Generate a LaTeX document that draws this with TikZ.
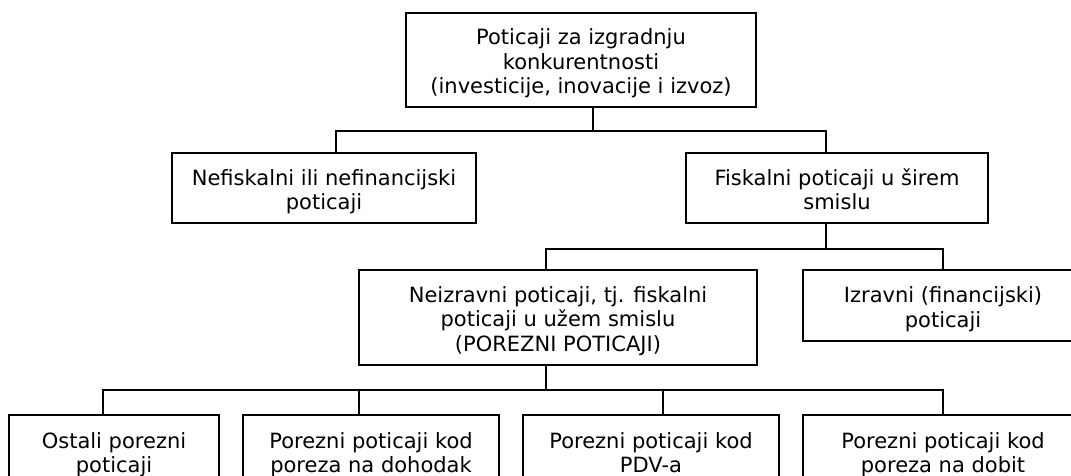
\documentclass[tikz,border=0pt]{standalone}
\usepackage{fontspec}
\setmainfont{DejaVu Sans}
\usetikzlibrary{positioning}
\tikzset{
orgbox/.style={
	  draw, line width=1.9pt, align=center, inner sep=0pt,
	    font=\fontsize{21}{24.5}\selectfont, text depth=5pt},
twolines/.style={text height=48pt},
threelines/.style={text height=72pt},
link/.style={line width=1.9pt}
}

\begin{document}
\begin{tikzpicture}[x=1pt, y=-1pt]
	\clip (0,0) rectangle (1071,475);
	\node[orgbox, threelines, minimum width=350pt, minimum height=94pt] (root) at (581,60)
		{Poticaji za izgradnju\\konkurentnosti\\(investicije, inovacije i izvoz)};
	\node[orgbox, twolines, minimum width=304pt, minimum height=70pt] (nefis) at (324,188)
		{Nefiskalni ili nefinancijski\\poticaji};
	\node[orgbox, twolines, minimum width=302pt, minimum height=70pt] (fis) at (837,188)
		{Fiskalni poticaji u širem\\smislu};
	\node[orgbox, threelines, minimum width=398pt, minimum height=95pt] (neizr) at (558,317.5)
		{Neizravni poticaji, tj. fiskalni\\poticaji u užem smislu\\(POREZNI POTICAJI)};
	\node[orgbox, twolines, minimum width=280pt, minimum height=71pt] (izr) at (943,305.5)
		{Izravni (financijski)\\poticaji};
	\node[orgbox, twolines, minimum width=210pt, minimum height=72pt] (ostali) at (114,451)
		{Ostali porezni\\poticaji};
	\node[orgbox, twolines, minimum width=256pt, minimum height=72pt] (dohodak) at (371,451)
		{Porezni poticaji kod\\poreza na dohodak};
	\node[orgbox, twolines, minimum width=256pt, minimum height=72pt] (pdv) at (651,451)
		{Porezni poticaji kod\\PDV-a};
	\node[orgbox, twolines, minimum width=280pt, minimum height=72pt] (dobit) at (943,451)
		{Porezni poticaji kod\\poreza na dobit};
	% connectors
	\draw[link] ([xshift=12pt]root.south) -- ++(0,23) coordinate (bus1);
	\draw[link] ([xshift=12pt]nefis.north) |- (bus1) -| ([xshift=-11pt]fis.north);
	\draw[link] ([xshift=-11pt]fis.south) -- ++(0,25) coordinate (bus2);
	\draw[link] ([xshift=-12pt]neizr.north) |- (bus2) -| (izr.north);
	\draw[link] ([xshift=-12pt]neizr.south) -- ++(0,24) coordinate (bus3);
	\draw[link] ([xshift=-11pt]ostali.north) |- (bus3) -| (dobit.north);
	\draw[link] ([xshift=-12pt]dohodak.north) -- ([xshift=-12pt]dohodak.north |- bus3);
	\draw[link] ([xshift=12pt]pdv.north) -- ([xshift=12pt]pdv.north |- bus3);
\end{tikzpicture}
\end{document}
